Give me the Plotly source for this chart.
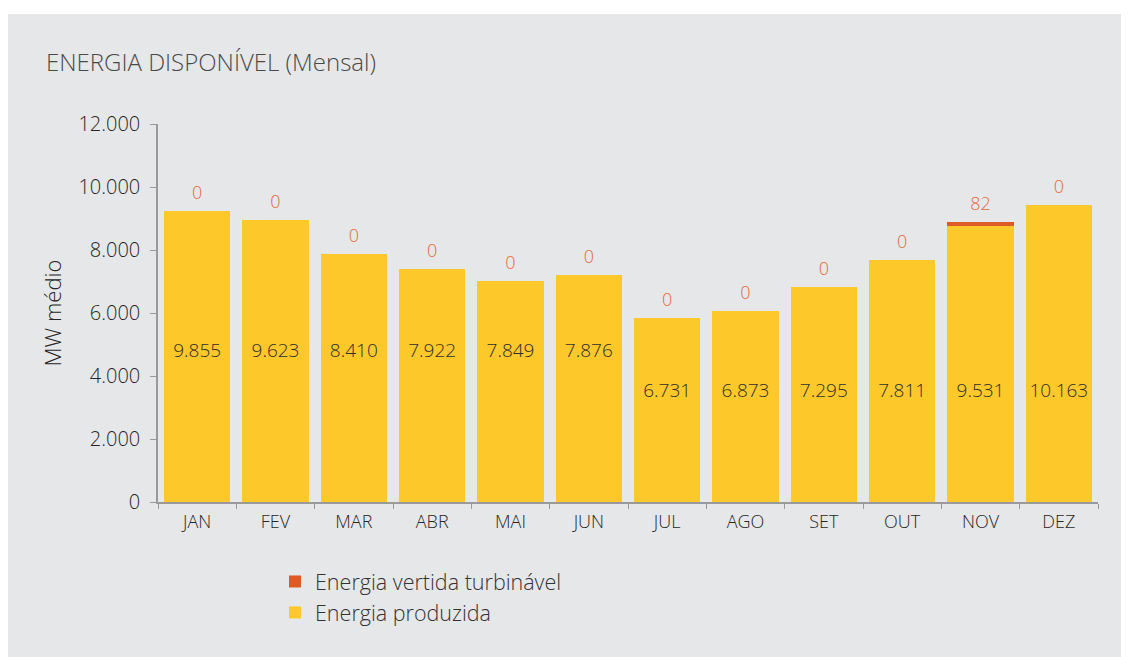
import plotly.graph_objects as go

months = ["JAN", "FEV", "MAR", "ABR", "MAI", "JUN", "JUL", "AGO", "SET", "OUT", "NOV", "DEZ"]
# bar heights as drawn in the reference (MW médio)
produzida = [9238, 8952, 7873, 7397, 7016, 7206, 5841, 6063, 6825, 7683, 8762, 9429]
vertida = [0, 0, 0, 0, 0, 0, 0, 0, 0, 0, 127, 0]
# printed labels
produzida_labels = ["9.855", "9.623", "8.410", "7.922", "7.849", "7.876",
                    "6.731", "6.873", "7.295", "7.811", "9.531", "10.163"]
vertida_labels = ["0", "0", "0", "0", "0", "0", "0", "0", "0", "0", "82", "0"]
label_y = [4760, 4760, 4760, 4760, 4760, 4760, 3490, 3490, 3490, 3490, 3490, 3490]
tick_vals = [0, 2000, 4000, 6000, 8000, 10000, 12000]
tick_text = ["0", "2.000", "4.000", "6.000", "8.000", "10.000", "12.000"]

YELLOW = "#fdc82a"
RED = "#dd5a26"
FONT = "Open Sans"
W, H = 1121, 649
L, R, T, B = 150, 31, 116, 155
PW, PH = W - L - R, H - T - B

fig = go.Figure()
fig.add_trace(go.Bar(x=months, y=produzida, name="Energia produzida",
                     marker=dict(color=YELLOW, line=dict(width=0)),
                     legendgroup="a", hoverinfo="skip"))
fig.add_trace(go.Bar(x=months, y=vertida, name="Energia vertida turbinável",
                     marker=dict(color=RED, line=dict(width=0)),
                     legendgroup="b", hoverinfo="skip"))
totals = [p + v for p, v in zip(produzida, vertida)]
fig.add_trace(go.Scatter(x=months, y=totals, mode="markers+text", text=vertida_labels,
                         textposition="top center",
                         marker=dict(size=11, color="rgba(0,0,0,0)"),
                         textfont=dict(family=FONT, size=18, color="#e56a3c", weight=300),
                         showlegend=False, hoverinfo="skip"))
fig.add_trace(go.Scatter(x=months, y=label_y, mode="text", text=produzida_labels,
                         textposition="middle center",
                         textfont=dict(family=FONT, size=19, color="#2e2e2e", weight=300),
                         showlegend=False, hoverinfo="skip"))

fig.update_layout(
    width=W, height=H,
    margin=dict(l=L, r=R, t=T, b=B),
    barmode="stack", bargap=0.157,
    paper_bgcolor="white", plot_bgcolor="rgba(0,0,0,0)",
    font=dict(family=FONT, color="#333333"),
    showlegend=True,
    legend=dict(x=(267 - 150) / PW, y=(494 - 553) / PH, xanchor="left", yanchor="top",
                traceorder="reversed", tracegroupgap=13,
                font=dict(family=FONT, size=21.5, color="#333333", weight=300),
                bgcolor="rgba(0,0,0,0)"),
    title=dict(text="ENERGIA DISPONÍVEL (Mensal)", x=38 / W, xanchor="left",
               y=1 - 55 / H, yanchor="middle",
               font=dict(family=FONT, size=24, color="#4a4a4a", weight=300)),
    shapes=[dict(type="rect", xref="paper", yref="paper",
                 x0=-L / PW, x1=(W - L + 10) / PW,
                 y0=-(B + 10) / PH, y1=(H - B - 6) / PH,
                 fillcolor="#e6e7e9", line=dict(width=0), layer="below")],
)
fig.update_yaxes(range=[0, 12000], tickvals=tick_vals, ticktext=tick_text,
                 showgrid=False, zeroline=False, showline=True,
                 linecolor="#9a9a9a", linewidth=1.5, ticks="outside",
                 ticklen=6, tickcolor="#9a9a9a", ticklabelstandoff=6,
                 tickfont=dict(family=FONT, size=20, color="#262626", weight=300),
                 title=dict(text="MW médio", standoff=11,
                            font=dict(family=FONT, size=22, color="#262626", weight=300)))
fig.update_xaxes(range=[-0.5, 11.5], showgrid=False, showline=True,
                 linecolor="#9a9a9a", linewidth=1.5,
                 ticks="outside", tickson="boundaries", ticklen=5, tickcolor="#9a9a9a",
                 ticklabelstandoff=3,
                 tickfont=dict(family=FONT, size=18, color="#262626", weight=300))

fig.write_html("out.html")
